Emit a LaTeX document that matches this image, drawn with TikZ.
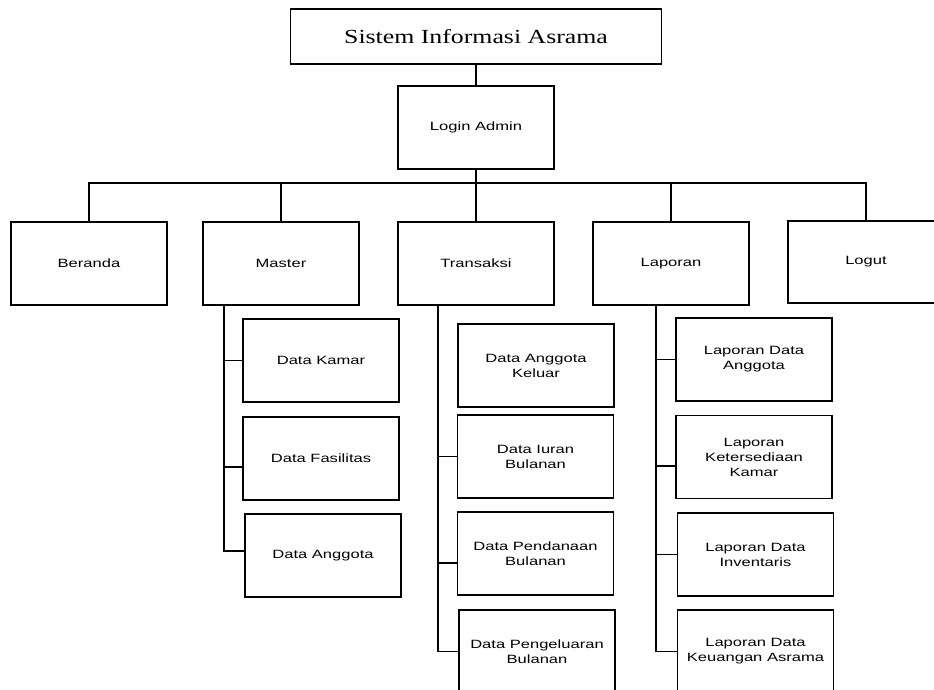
\documentclass[tikz,border=0pt]{standalone}
\usepackage{fontspec}
\usetikzlibrary{calc}
\newfontfamily\titlefont[FakeStretch=1.29]{Liberation Serif}
\newfontfamily\boxfont[FakeStretch=1.38]{Liberation Sans}
\tikzset{
  menubox/.style={draw, line width=1.1pt, minimum width=156pt, minimum height=83pt,
    inner sep=0pt, align=center, font=\boxfont\fontsize{12pt}{15pt}\selectfont},
  titlebox/.style={draw, line width=1.1pt, minimum width=371pt, minimum height=55pt,
    inner sep=0pt, font=\titlefont\fontsize{20pt}{24pt}\selectfont},
  link/.style={line width=1.1pt}
}
\begin{document}
\begin{tikzpicture}[x=1pt, y=1pt, yscale=-1]
\useasboundingbox (0,0) rectangle (934,690);
\clip (0,0) rectangle (934,690);

% root and login
\node[titlebox] (root) at (476,36.5) {Sistem Informasi Asrama};
\node[menubox] (login) at (476,127.5) {Login Admin};

% main menu
\node[menubox] (beranda)   at (89,263.5)  {Beranda};
\node[menubox] (master)    at (281,263.5) {Master};
\node[menubox] (transaksi) at (476,263.5) {Transaksi};
\node[menubox] (laporan)   at (671,263.5) {Laporan};
\node[menubox, minimum height=82pt] (logut) at (866,262) {Logut};

% master submenu
\node[menubox] (kamar)     at (321,360.5) {Data Kamar};
\node[menubox] (fasilitas) at (321,458.5) {Data Fasilitas};
\node[menubox] (anggota)   at (323,555.5) {Data Anggota};

% transaksi submenu
\node[menubox] (keluar)      at (536,365.5)   {Data Anggota\\Keluar};
\node[menubox] (iuran)       at (535.5,456.5) {Data Iuran\\Bulanan};
\node[menubox] (pendanaan)   at (535.5,553.5) {Data Pendanaan\\Bulanan};
\node[menubox] (pengeluaran) at (537,651.5)   {Data Pengeluaran\\Bulanan};

% laporan submenu
\node[menubox] (lapanggota)   at (754,359.5)   {Laporan Data\\Anggota};
\node[menubox] (ketersediaan) at (754,457)     {Laporan\\Ketersediaan\\Kamar};
\node[menubox] (inventaris)   at (755.5,554.5) {Laporan Data\\Inventaris};
\node[menubox] (keuangan)     at (755.5,651.5) {Laporan Data\\Keuangan Asrama};

% trunk
\coordinate (bus) at (476,183);
\draw[link] (root.south) -- (login.north);
\draw[link] (login.south) -- (bus);
\draw[link] (beranda.north) -- (beranda.north |- bus) -- (logut.north |- bus) -- (logut.north);
\draw[link] (master.north) -- (master.north |- bus);
\draw[link] (transaksi.north) -- (transaksi.north |- bus);
\draw[link] (laporan.north) -- (laporan.north |- bus);

% master spine
\coordinate (ms) at (224,0);
\coordinate (mfas) at ($(fasilitas.west)+(0,8.5)$);
\coordinate (mang) at ($(anggota.west)+(0,-4.5)$);
\draw[link] (master.south -| ms) -- (ms |- mang) -- (mang);
\draw[link] (ms |- kamar.west) -- (kamar.west);
\draw[link] (ms |- mfas) -- (mfas);

% transaksi spine
\coordinate (ts) at (438,0);
\coordinate (tpen) at ($(pendanaan.west)+(0,9.5)$);
\draw[link] (transaksi.south -| ts) -- (ts |- pengeluaran.west) -- (pengeluaran.west);
\draw[link] (ts |- iuran.west) -- (iuran.west);
\draw[link] (ts |- tpen) -- (tpen);

% laporan spine
\coordinate (ls) at (656,0);
\coordinate (lket) at ($(ketersediaan.west)+(0,9)$);
\draw[link] (laporan.south -| ls) -- (ls |- keuangan.west) -- (keuangan.west);
\draw[link] (ls |- lapanggota.west) -- (lapanggota.west);
\draw[link] (ls |- lket) -- (lket);
\draw[link] (ls |- inventaris.west) -- (inventaris.west);
\end{tikzpicture}
\end{document}
